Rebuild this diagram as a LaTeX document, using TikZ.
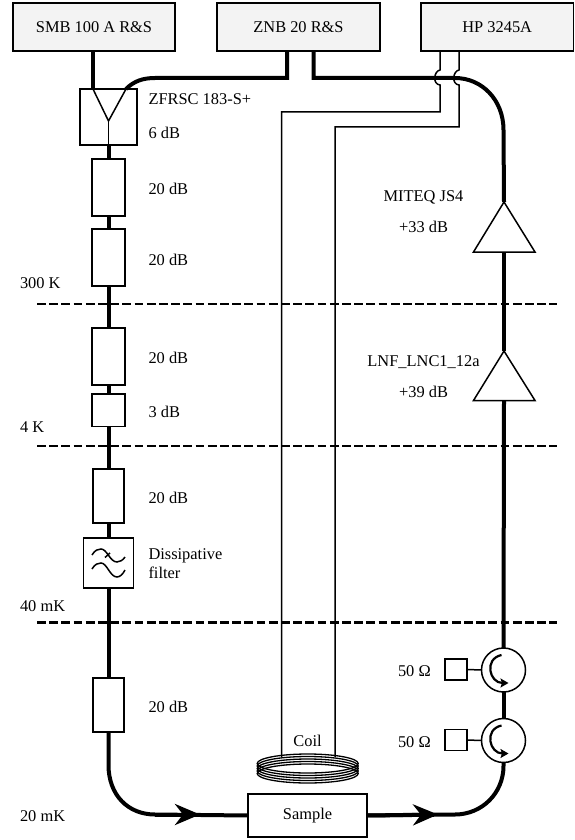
\documentclass[tikz,border=0pt]{standalone}
\usepackage{fontspec}
\setmainfont{Liberation Serif}
\usetikzlibrary{arrows.meta}
\definecolor{instr}{HTML}{F3F3F3}
\tikzset{
  lab/.style={inner sep=0pt,outer sep=0pt,anchor=base west,font=\fontsize{16.4}{18}\selectfont},
  labc/.style={lab,anchor=base},
  boxthin/.style={draw=black,line width=1.5pt,fill=white,inner sep=0pt,outer sep=0pt,rectangle},
  instrument/.style={boxthin,fill=instr,minimum height=48pt,font=\fontsize{16.4}{18}\selectfont},
  atten/.style={boxthin,minimum width=33pt},
  thickline/.style={line width=4pt,draw=black},
  thinline/.style={line width=1.5pt,draw=black},
  stagesep/.style={line width=2.7pt,dash pattern=on 8.8pt off 3.4pt},
  flow/.style={line width=4pt,-{Stealth[length=25pt,width=21pt,inset=8pt]}},
  circ/.style={circle,draw=black,line width=1.5pt,fill=white,minimum size=44pt,inner sep=0pt,outer sep=0pt},
  coilring/.style={draw=black,line width=1.3pt},
}
\begin{document}
\begin{tikzpicture}[x=1pt,y=-1pt]
\useasboundingbox (0,0) rectangle (574,840);
% instruments
\node[instrument,minimum width=162pt] (smb) at (94,27) {SMB 100 A R\&S};
\node[instrument,minimum width=163pt] (znb) at (298.5,27) {ZNB 20 R\&S};
\node[instrument,minimum width=152.4pt] (hp) at (497.2,27) {HP 3245A};
% free points
\coordinate (smbout) at (93,51);
\coordinate (znbl) at (287,51);
\coordinate (znbr) at (313.5,51);
\coordinate (znblc) at (287,78);
\coordinate (znbrc) at (313.5,78);
\coordinate (splin) at (93,89);
\coordinate (splin2) at (126,89);
\coordinate (splmid) at (108.5,121);
\coordinate (hpa) at (440,51);
\coordinate (hpb) at (459,51);
% thin coil wires
\coordinate (wa1) at (440,112);
\coordinate (wa2) at (281.5,112);
\coordinate (wa3) at (281.5,757);
\coordinate (wb1) at (459,127);
\coordinate (wb2) at (335,127);
\coordinate (wb3) at (335,757);
% splitter and attenuators
\node[boxthin,minimum width=57pt,minimum height=56pt] (split) at (108.5,117) {};
\node[atten,minimum height=57pt] (a1) at (108.5,187.5) {};
\node[atten,minimum height=57pt] (a2) at (108.5,257.5) {};
\node[atten,minimum width=32.6pt,minimum height=57pt] (a3) at (108.5,356.5) {};
\node[atten,minimum height=32.5pt] (a4) at (108.5,410.2) {};
\node[atten,minimum width=31pt,minimum height=54pt] (a5) at (108.5,496) {};
\node[boxthin,minimum width=50pt,minimum height=50pt] (filt) at (108.5,563) {};
\node[atten,minimum width=31pt,minimum height=54pt] (a6) at (108.5,705) {};
\node[boxthin,minimum width=119pt,minimum height=43pt] (sample) at (307.5,815.5) {};
\node[lab,anchor=base] at (307.5,819.5) {Sample};
% circulators and loads
\node[circ] (c1) at (503.5,670) {};
\node[circ] (c2) at (503.5,740.5) {};
\node[boxthin,minimum width=22pt,minimum height=21pt] (t1) at (456,669.5) {};
\node[boxthin,minimum width=22pt,minimum height=21pt] (t2) at (456,740) {};
% amplifier points
\coordinate (m1t) at (504,202);
\coordinate (m1l) at (473.5,252);
\coordinate (m1r) at (535,252);
\coordinate (m1b) at (504,252);
\coordinate (m2t) at (504,351);
\coordinate (m2l) at (473.5,400.5);
\coordinate (m2r) at (535,400.5);
\coordinate (m2b) at (504,400.5);
% curve ends
\coordinate (lc) at (108.5,765);
\coordinate (lcb) at (155,814.5);
\coordinate (tip1) at (200,814.5);
\coordinate (tip2) at (438,814.5);
\coordinate (rcb) at (455,814.5);
\coordinate (rc) at (503.5,766);
\coordinate (rtc) at (455,78);
\coordinate (rts) at (503.5,130);
\coordinate (ltc) at (155,78);
% thick lines
\draw[thickline] (smbout) -- (splin);
\draw[thickline] (split.south) -- (a1.north);
\draw[thickline] (a1.south) -- (a2.north);
\draw[thickline] (a2.south) -- (a3.north);
\draw[thickline] (a3.south) -- (a4.north);
\draw[thickline] (a4.south) -- (a5.north);
\draw[thickline] (a5.south) -- (filt.north);
\draw[thickline] (filt.south) -- (a6.north);
\draw[thickline] (a6.south) -- (lc) .. controls (108.5,795) and (128,814.5) .. (lcb) -- (sample.west);
\draw[flow] (lcb) -- (tip1);
\draw[thickline] (sample.east) -- (rcb) .. controls (482,814.5) and (503.5,793) .. (rc) -- (c2.south);
\draw[flow] (sample.east) -- (tip2);
\draw[thickline] (c2.north) -- (c1.south);
\draw[thickline] (c1.north) -- (m2b);
\draw[thickline] (m2t) -- (m1b);
\draw[thickline] (m1t) -- (rts) .. controls (503.5,100) and (482,78) .. (rtc) -- (znbrc) -- (znbr);
\draw[thickline] (znbl) -- (znblc) -- (ltc) .. controls (143,78) and (134,81) .. (splin2);
% thin wires with jumps
\draw[thinline] (hpa) -- (440,70) .. controls (434,71) and (432,84) .. (440,85) -- (wa1) -- (wa2) -- (wa3);
\draw[thinline] (hpb) -- (459,70) .. controls (453,71) and (451,84) .. (459,85) -- (wb1) -- (wb2) -- (wb3);
\draw[thinline] (t1.east) -- (c1.west);
\draw[thinline] (t2.east) -- (c2.west);
% splitter symbol
\draw[thinline] (splin) -- (splmid) -- (splin2);
\draw[thinline] (splmid) -- (split.south);
% amplifiers
\draw[thinline,line join=miter,fill=white] (m1t) -- (m1r) -- (m1l) -- cycle;
\draw[thinline,line join=miter,fill=white] (m2t) -- (m2r) -- (m2l) -- cycle;
% filter symbol
\draw[thinline] (92,555) .. controls (95,550) and (98,549) .. (101,549) .. controls (107,549) and (110,562) .. (117,562) .. controls (120,562) and (123,560) .. (125,557);
\draw[thinline] (92,569) .. controls (95,564) and (98,563) .. (101,563) .. controls (107,563) and (110,577) .. (117,577) .. controls (120,577) and (123,574) .. (125,570);
\draw[thinline] (105,557.5) -- (110,553);
% circulator symbols
\foreach \c in {c1,c2}{
  \draw[line width=2.2pt,-{Stealth[length=8pt,width=9pt,inset=1.5pt]}] ([shift={(-2,-15)}]\c.center) .. controls ([shift={(-20,-11)}]\c.center) and ([shift={(-14,13)}]\c.center) .. ([shift={(5,13)}]\c.center);
}
% coil
\foreach \yc in {773.5,771,768.5,766,763.5}{
  \draw[coilring] (307.7,\yc) ellipse (50.5pt and 9.5pt);
}
% temperature stage lines
\coordinate (d1a) at (37,304); \coordinate (d1b) at (557,304);
\coordinate (d2a) at (37,446); \coordinate (d2b) at (557,446);
\coordinate (d3a) at (37,622.5); \coordinate (d3b) at (557,622.5);
\draw[stagesep] (d1a) -- (d1b);
\draw[stagesep] (d2a) -- (d2b);
\draw[stagesep] (d3a) -- (d3b);
% labels
\node[lab] at (148.5,104.5) {ZFRSC 183-S+};
\node[lab] at (148.5,139) {6 dB};
\node[lab] at (148.5,194) {20 dB};
\node[lab] at (148.5,265) {20 dB};
\node[lab] at (20,288) {300 K};
\node[lab] at (148.5,363) {20 dB};
\node[lab] at (148.5,417) {3 dB};
\node[lab] at (20,432) {4 K};
\node[lab] at (148.5,503) {20 dB};
\node[lab] at (148.5,559) {Dissipative};
\node[lab] at (148.5,578) {filter};
\node[lab] at (20,611) {40 mK};
\node[lab] at (148.5,712) {20 dB};
\node[lab] at (20,821) {20 mK};
\node[labc] at (423.5,201) {MITEQ JS4};
\node[labc] at (423.5,232) {+33 dB};
\node[labc] at (423.5,366) {LNF\_LNC1\_12a};
\node[labc] at (423.5,397) {+39 dB};
\node[lab] at (398,676) {50 Ω};
\node[lab] at (398,747) {50 Ω};
\node[labc] at (307.5,746) {Coil};
\end{tikzpicture}
\end{document}
